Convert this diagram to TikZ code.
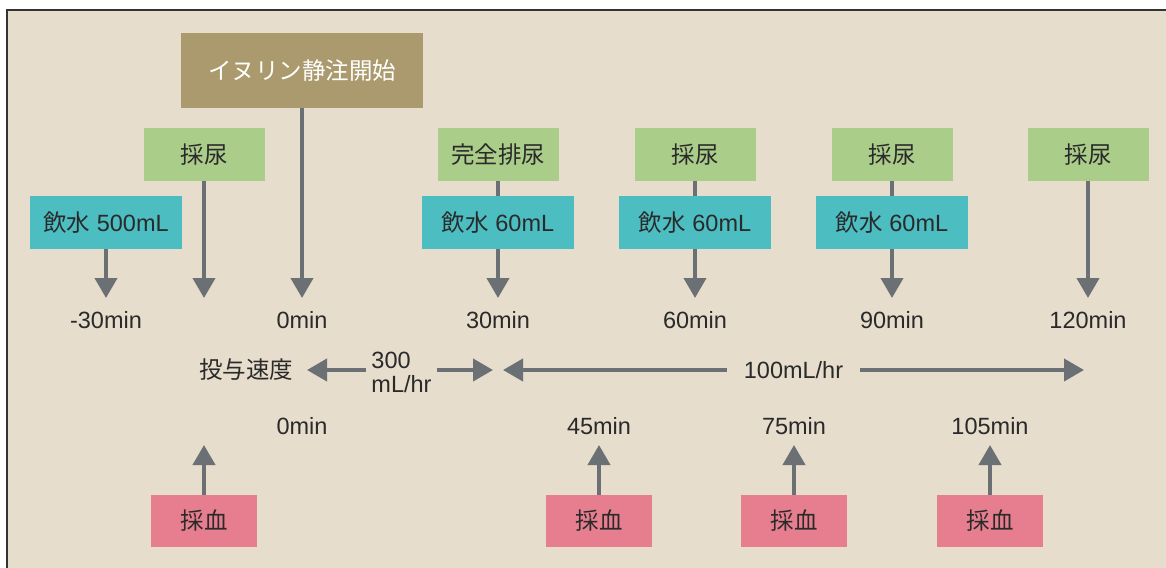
\documentclass[tikz,border=0pt]{standalone}
\usepackage{fontspec}
\setmainfont{Liberation Sans}
\newfontfamily\jp{Noto Sans CJK JP}
\usetikzlibrary{arrows.meta}
\definecolor{bg}{HTML}{E6DDCC}
\definecolor{inulinc}{HTML}{AB9A6D}
\definecolor{greenc}{HTML}{AACD8A}
\definecolor{tealc}{HTML}{4CBDC1}
\definecolor{pinkc}{HTML}{E67E8F}
\definecolor{arrc}{HTML}{6B7075}
\definecolor{txtc}{HTML}{2A2A2A}
\definecolor{framec}{HTML}{333333}
\begin{document}
\begin{tikzpicture}[x=1pt,y=-1pt,
  every node/.style={font=\fontsize{23.5}{24}\selectfont, text=txtc, inner sep=0pt},
  boxbase/.style={minimum height=53pt, anchor=center},
  inulinbox/.style={boxbase, fill=inulinc, minimum width=242pt, minimum height=75pt, text=white},
  urinebox/.style={boxbase, fill=greenc, minimum width=121pt},
  waterbox/.style={boxbase, fill=tealc, minimum width=152pt},
  bloodbox/.style={boxbase, fill=pinkc, minimum width=106pt, minimum height=52pt},
  conn/.style={draw=arrc, line width=4pt},
  arr/.style={conn, -{Triangle[length=20pt,width=22pt]}},
  timelbl/.style={anchor=center}
]
\useasboundingbox (0,0) rectangle (1166,567);
\fill[white] (0,0) rectangle (1166,567);
\fill[bg] (7,10) rectangle (1180,580);
\draw[framec, line width=1.6pt] (1180,10) -- (7,10) -- (7,580);

% top boxes
\node[inulinbox] (inulin) at (302,70.5) {\jp イヌリン静注開始};
\node[urinebox] (u0) at (204,154.5) {\jp 採尿};
\node[waterbox] (w500) at (106,222.5) {{\jp 飲水} 500mL};
\node[urinebox] (u30) at (498,154.5) {\jp 完全排尿};
\node[waterbox] (w30) at (498,222.5) {{\jp 飲水} 60mL};
\node[urinebox] (u60) at (695,154.5) {\jp 採尿};
\node[waterbox] (w60) at (695,222.5) {{\jp 飲水} 60mL};
\node[urinebox] (u90) at (892,154.5) {\jp 採尿};
\node[waterbox] (w90) at (892,222.5) {{\jp 飲水} 60mL};
\node[urinebox] (u120) at (1088,154.5) {\jp 採尿};

% arrow tips (top)
\coordinate (tm30) at (106,298);
\coordinate (tu0) at (204,298);
\coordinate (t0) at (302,298);
\coordinate (t30) at (498,298);
\coordinate (t60) at (695,298);
\coordinate (t90) at (892,298);
\coordinate (t120) at (1088,298);

\draw[arr] (w500) -- (tm30);
\draw[arr] (u0) -- (tu0);
\draw[arr] (inulin) -- (t0);
\draw[conn] (u30) -- (w30);
\draw[arr] (w30) -- (t30);
\draw[conn] (u60) -- (w60);
\draw[arr] (w60) -- (t60);
\draw[conn] (u90) -- (w90);
\draw[arr] (w90) -- (t90);
\draw[arr] (u120) -- (t120);

% time labels
\node[timelbl] (lm30) at (106,320) {-30min};
\node[timelbl] (l0) at (302,320) {0min};
\node[timelbl] (l30) at (498,320) {30min};
\node[timelbl] (l60) at (695,320) {60min};
\node[timelbl] (l90) at (892,320) {90min};
\node[timelbl] (l120) at (1088,320) {120min};

% rate row
\node (rate) at (246,370) {\jp 投与速度};
\node[align=left, font=\fontsize{23.5}{24}\selectfont, inner xsep=5pt] (r300) at (401.5,372) {300\\mL/hr};
\coordinate (ra) at (307,370);
\coordinate (rb) at (493,370);
\coordinate (rc) at (503,370);
\coordinate (rd) at (1084,370);
\node[inner xsep=17pt] (r100) at (793.5,370) {100mL/hr};
\draw[arr] (r300.west |- ra) -- (ra);
\draw[arr] (r300.east |- rb) -- (rb);
\draw[arr] (r100.west) -- (rc);
\draw[arr] (r100.east) -- (rd);

% lower time labels
\node[timelbl] (b0) at (302,426) {0min};
\node[timelbl] (b45) at (599,426) {45min};
\node[timelbl] (b75) at (794,426) {75min};
\node[timelbl] (b105) at (990,426) {105min};

% blood boxes
\node[bloodbox] (s0) at (204,521) {\jp 採血};
\node[bloodbox] (s45) at (599,521) {\jp 採血};
\node[bloodbox] (s75) at (794,521) {\jp 採血};
\node[bloodbox] (s105) at (990,521) {\jp 採血};

\coordinate (bt0) at (204,445);
\coordinate (bt45) at (599,445);
\coordinate (bt75) at (794,445);
\coordinate (bt105) at (990,445);
\draw[arr] (s0) -- (bt0);
\draw[arr] (s45) -- (bt45);
\draw[arr] (s75) -- (bt75);
\draw[arr] (s105) -- (bt105);
\end{tikzpicture}
\end{document}
